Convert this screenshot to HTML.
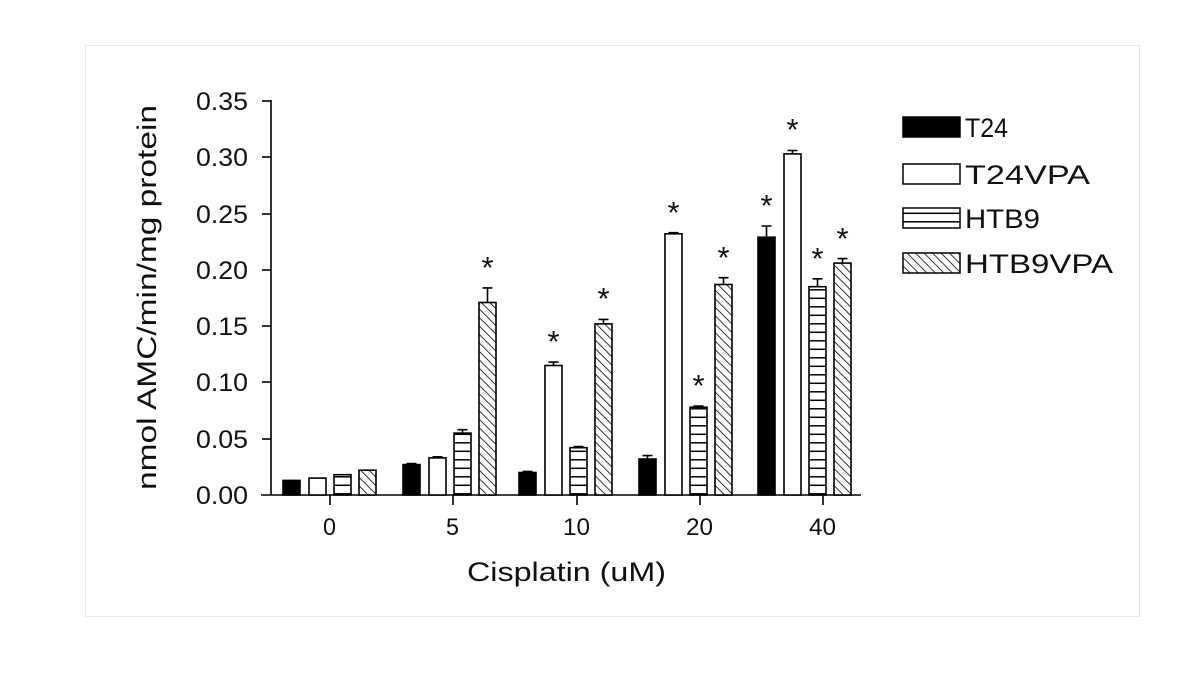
<!DOCTYPE html>
<html><head><meta charset="utf-8"><style>
html,body{margin:0;padding:0;background:#fff}
svg{display:block}
text{font-family:"Liberation Sans",Arial,sans-serif;fill:#111}
</style></head><body>
<svg width="1200" height="696" viewBox="0 0 1200 696" xmlns="http://www.w3.org/2000/svg">
<defs>
<pattern id="hz" patternUnits="userSpaceOnUse" width="10" height="8.5"><rect width="10" height="8.5" fill="#fff"/><line x1="0" y1="0.8" x2="10" y2="0.8" stroke="#000" stroke-width="1.5"/></pattern>
<pattern id="dg" patternUnits="userSpaceOnUse" width="6" height="6" patternTransform="rotate(-45)"><rect width="6" height="6" fill="#fff"/><line x1="0" y1="0" x2="0" y2="6" stroke="#000" stroke-width="1.6"/></pattern>
</defs>
<rect x="85.5" y="45.5" width="1054" height="571" fill="#fff" stroke="#e8e8e8"/>
<g stroke="#000" stroke-width="1.6" fill="none">
<line x1="271" y1="100" x2="271" y2="495"/>
<line x1="261" y1="495" x2="861" y2="495"/>
<line x1="262" y1="101" x2="271" y2="101"/>
<line x1="262" y1="157" x2="271" y2="157"/>
<line x1="262" y1="214" x2="271" y2="214"/>
<line x1="262" y1="270" x2="271" y2="270"/>
<line x1="262" y1="326" x2="271" y2="326"/>
<line x1="262" y1="382" x2="271" y2="382"/>
<line x1="262" y1="439" x2="271" y2="439"/>
<line x1="330" y1="495" x2="330" y2="505"/>
<line x1="453" y1="495" x2="453" y2="505"/>
<line x1="577" y1="495" x2="577" y2="505"/>
<line x1="700" y1="495" x2="700" y2="505"/>
<line x1="823" y1="495" x2="823" y2="505"/>
</g>
<g font-size="25">
<text x="196" y="110" textLength="52" lengthAdjust="spacingAndGlyphs">0.35</text>
<text x="196" y="166" textLength="52" lengthAdjust="spacingAndGlyphs">0.30</text>
<text x="196" y="223" textLength="52" lengthAdjust="spacingAndGlyphs">0.25</text>
<text x="196" y="279" textLength="52" lengthAdjust="spacingAndGlyphs">0.20</text>
<text x="196" y="335" textLength="52" lengthAdjust="spacingAndGlyphs">0.15</text>
<text x="196" y="391" textLength="52" lengthAdjust="spacingAndGlyphs">0.10</text>
<text x="196" y="448" textLength="52" lengthAdjust="spacingAndGlyphs">0.05</text>
<text x="196" y="504" textLength="52" lengthAdjust="spacingAndGlyphs">0.00</text>
</g>
<g font-size="24">
<text x="323" y="535" textLength="13" lengthAdjust="spacingAndGlyphs">0</text>
<text x="446" y="535" textLength="13" lengthAdjust="spacingAndGlyphs">5</text>
<text x="563" y="535" textLength="27" lengthAdjust="spacingAndGlyphs">10</text>
<text x="686" y="535" textLength="27" lengthAdjust="spacingAndGlyphs">20</text>
<text x="809" y="535" textLength="27" lengthAdjust="spacingAndGlyphs">40</text>
</g>
<text x="467" y="581" font-size="27" textLength="199" lengthAdjust="spacingAndGlyphs">Cisplatin (uM)</text>
<text transform="translate(156,298) rotate(-90)" x="-192" y="0" font-size="27" textLength="385" lengthAdjust="spacingAndGlyphs">nmol AMC/min/mg protein</text>
<g stroke="#000" stroke-width="1.6">
<rect x="283" y="480.4" width="17" height="14.6" fill="#000"/>
<rect x="309" y="478.1" width="17" height="16.9" fill="#fff"/>
<rect x="334" y="474.7" width="17" height="20.3" fill="url(#hz)"/>
<rect x="359" y="470.2" width="17" height="24.8" fill="url(#dg)"/>

<rect x="403" y="464.6" width="17" height="30.4" fill="#000"/>
<rect x="429" y="457.9" width="17" height="37.1" fill="#fff"/>
<rect x="454" y="433.1" width="17" height="61.9" fill="url(#hz)"/>
<rect x="479" y="302.5" width="17" height="192.5" fill="url(#dg)"/>

<rect x="519" y="472.5" width="17" height="22.5" fill="#000"/>
<rect x="545" y="365.5" width="17" height="129.5" fill="#fff"/>
<rect x="570" y="447.7" width="17" height="47.3" fill="url(#hz)"/>
<rect x="595" y="323.9" width="17" height="171.1" fill="url(#dg)"/>

<rect x="639" y="459" width="17" height="36" fill="#000"/>
<rect x="665" y="233.8" width="17" height="261.2" fill="#fff"/>
<rect x="690" y="407.2" width="17" height="87.8" fill="url(#hz)"/>
<rect x="715" y="284.5" width="17" height="210.5" fill="url(#dg)"/>

<rect x="758" y="237.2" width="17" height="257.8" fill="#000"/>
<rect x="784" y="153.9" width="17" height="341.1" fill="#fff"/>
<rect x="809" y="286.7" width="17" height="208.3" fill="url(#hz)"/>
<rect x="834" y="263.1" width="17" height="231.9" fill="url(#dg)"/>
</g>
<g stroke="#000" stroke-width="1.6" fill="none">
<path d="M411.5 464.6V463.5M406.5 463.5H416.5"/>
<path d="M437.5 457.9V456.8M432.5 456.8H442.5"/>
<path d="M462.5 433.1V429.7M457.5 429.7H467.5"/>
<path d="M487.5 302.5V287.9M482.5 287.9H492.5"/>
<path d="M527.5 472.5V471.4M522.5 471.4H532.5"/>
<path d="M553.5 365.5V362.1M548.5 362.1H558.5"/>
<path d="M578.5 447.7V446.6M573.5 446.6H583.5"/>
<path d="M603.5 323.9V319.4M598.5 319.4H608.5"/>
<path d="M647.5 459V455.6M642.5 455.6H652.5"/>
<path d="M673.5 233.8V232.7M668.5 232.7H678.5"/>
<path d="M698.5 407.2V406.1M693.5 406.1H703.5"/>
<path d="M723.5 284.5V277.7M718.5 277.7H728.5"/>
<path d="M766.5 237.2V226M761.5 226H771.5"/>
<path d="M792.5 153.9V150.5M787.5 150.5H797.5"/>
<path d="M817.5 286.7V278.8M812.5 278.8H822.5"/>
<path d="M842.5 263.1V258.6M837.5 258.6H847.5"/>
</g>
<g font-size="31" text-anchor="middle">
<text x="487.5" y="278">*</text>
<text x="553.5" y="352">*</text>
<text x="603.5" y="309">*</text>
<text x="673.5" y="223">*</text>
<text x="698.5" y="396">*</text>
<text x="723.5" y="268">*</text>
<text x="766.5" y="216">*</text>
<text x="792.5" y="140">*</text>
<text x="817.5" y="269">*</text>
<text x="842.5" y="249">*</text>
</g>
<g font-size="27">
<rect x="903" y="117" width="57" height="20" fill="#000" stroke="#000" stroke-width="1.5"/>
<text x="965" y="137" textLength="43" lengthAdjust="spacingAndGlyphs">T24</text>
<rect x="903" y="164" width="57" height="20" fill="#fff" stroke="#000" stroke-width="1.5"/>
<text x="965" y="184" textLength="125" lengthAdjust="spacingAndGlyphs">T24VPA</text>
<rect x="903" y="208" width="57" height="20" fill="url(#hz)" stroke="#000" stroke-width="1.5"/>
<text x="965" y="228" textLength="75" lengthAdjust="spacingAndGlyphs">HTB9</text>
<rect x="903" y="253" width="57" height="20" fill="url(#dg)" stroke="#000" stroke-width="1.5"/>
<text x="965" y="273" textLength="148" lengthAdjust="spacingAndGlyphs">HTB9VPA</text>
</g>
</svg>
</body></html>
